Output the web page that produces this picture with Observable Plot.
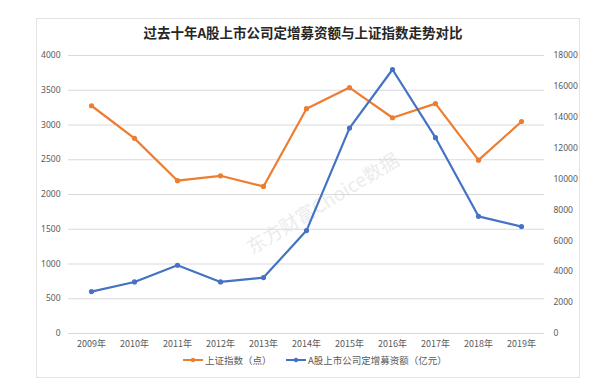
<!DOCTYPE html>
<html>
<head>
<meta charset="utf-8">
<script src="https://cdn.jsdelivr.net/npm/d3@7"></script>
<script src="https://cdn.jsdelivr.net/npm/@observablehq/plot@0.6"></script>
<style>
  html, body { margin: 0; padding: 0; background: #fff; }
  #wrap { position: relative; width: 600px; height: 391px; overflow: hidden; font-family: "Noto Sans CJK SC", "Noto Sans", sans-serif; }
  #frame { position: absolute; left: 36px; top: 18px; width: 544px; height: 360px; border: 1px solid #e3e3e3; box-sizing: border-box; }
  #title { position: absolute; left: 0; width: 606px; top: 22px; text-align: center; font-size: 13.5px; font-weight: bold; color: #262626; line-height: 20px; }
  #plot { position: absolute; left: 0; top: 0; }
  #watermark { position: absolute; left: 322px; top: 202px; transform: translate(-50%, -50%) rotate(-31.5deg); font-size: 19px; color: #ececec; white-space: nowrap; font-family: "Noto Sans CJK SC", sans-serif; }
  #legend { position: absolute; top: 352px; left: 0; width: 600px; height: 16px; font-size: 9.5px; color: #595959; }
  .item { position: absolute; top: 0; display: flex; align-items: center; height: 16px; white-space: nowrap; }
  .item svg { margin-right: 2px; }
</style>
</head>
<body>
<div id="wrap">
  <div id="frame"></div>
  <div id="watermark">东方财富Choice数据</div>
  <div id="plot"></div>
  <div id="title">过去十年A股上市公司定增募资额与上证指数走势对比</div>
  <div id="legend"></div>
</div>
<script>
const years = ["2009", "2010", "2011", "2012", "2013", "2014", "2015", "2016", "2017", "2018", "2019"];
const shIndex = [3277, 2808, 2199, 2269, 2116, 3235, 3539, 3104, 3307, 2494, 3050];
const placement = [2716, 3337, 4418, 3337, 3622, 6662, 13298, 17095, 12677, 7587, 6921];
const leftTicks = [0, 500, 1000, 1500, 2000, 2500, 3000, 3500, 4000];
const rightTicks = [0, 2000, 4000, 6000, 8000, 10000, 12000, 14000, 16000, 18000];
const seriesNames = ["上证指数（点）", "A股上市公司定增募资额（亿元）"];
const colors = ["#ED7D31", "#4472C4"];

const leftMax = 4000, rightMax = 18000;
const ratio = rightMax / leftMax;

const orange = years.map((y, i) => ({year: y, value: shIndex[i]}));
const blue = years.map((y, i) => ({year: y, value: placement[i] / ratio}));

const tickStyle = {fill: "#595959", fontSize: 8.5, fontFamily: "'Noto Sans', 'Noto Sans CJK SC', sans-serif"};

const chart = Plot.plot({
  width: 600,
  height: 391,
  marginTop: 55,
  marginBottom: 58,
  marginLeft: 68,
  marginRight: 56,
  style: {background: "transparent", overflow: "visible"},
  x: {type: "point", domain: years, padding: 0.5},
  y: {domain: [0, leftMax]},
  marks: [
    Plot.gridY(leftTicks, {stroke: "#d9d9d9", strokeOpacity: 1, strokeWidth: 1}),
    Plot.axisY(leftTicks, {anchor: "left", tickSize: 0, tickPadding: 8, label: null,
      tickFormat: d => String(d), ...tickStyle}),
    Plot.axisY(rightTicks.map(v => v / ratio), {anchor: "right", tickSize: 0, tickPadding: 9, label: null,
      tickFormat: d => String(Math.round(d * ratio)), ...tickStyle}),
    Plot.axisX({tickSize: 0, tickPadding: 7, label: null, tickFormat: d => d + "年", ...tickStyle, fontSize: 9,
      fontFamily: "'Noto Sans CJK SC', sans-serif"}),
    Plot.line(orange, {x: "year", y: "value", stroke: colors[0], strokeWidth: 2.2}),
    Plot.dot(orange, {x: "year", y: "value", fill: colors[0], r: 2.6}),
    Plot.line(blue, {x: "year", y: "value", stroke: colors[1], strokeWidth: 2.2}),
    Plot.dot(blue, {x: "year", y: "value", fill: colors[1], r: 2.6})
  ]
});
document.getElementById("plot").appendChild(chart);

const legend = document.getElementById("legend");
const lefts = [183, 286];
seriesNames.forEach((name, i) => {
  const item = document.createElement("div");
  item.className = "item";
  item.style.left = lefts[i] + "px";
  item.innerHTML = `<svg width="20" height="8"><line x1="0" y1="4" x2="20" y2="4" stroke="${colors[i]}" stroke-width="2"/><circle cx="10" cy="4" r="2.2" fill="${colors[i]}"/></svg><span>${name}</span>`;
  legend.appendChild(item);
});
</script>
</body>
</html>
